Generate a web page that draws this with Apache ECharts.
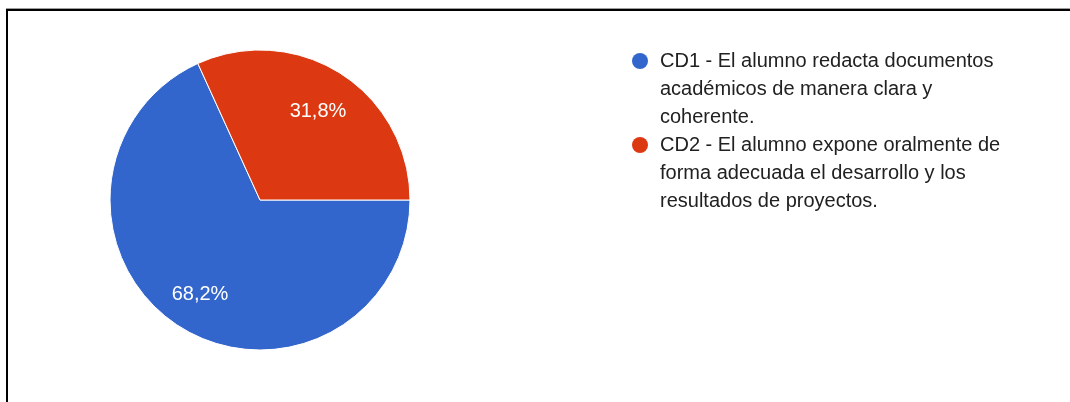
<!DOCTYPE html>
<html>
<head>
<meta charset="utf-8">
<script src="https://cdn.jsdelivr.net/npm/echarts@6/dist/echarts.min.js"></script>
<style>
	html, body { margin: 0; padding: 0; background: #fff; }
	#chartContainer { position: absolute; left: 0; top: 0; width: 1070px; height: 402px; }
	#frame { position: absolute; left: 6px; top: 8px; width: 1100px; height: 420px;
		border-top: 1px solid #9e9e9e; pointer-events: none; }
	#frame div { position: absolute; left: 0; top: 0; width: 100%; height: 100%;
		border-top: 2px solid #000; border-left: 2px solid #000; }
</style>
</head>
<body>
<div id="chartContainer"></div>
<div id="frame"><div></div></div>
<script>
var categories = [
	'CD1 - El alumno redacta documentos académicos de manera clara y coherente.',
	'CD2 - El alumno expone oralmente de forma adecuada el desarrollo y los resultados de proyectos.'
];
var percentValues = [68.2, 31.8];
var colors = ['#3366cc', '#dc3912'];

var option = null;

function initOption() {
	var pieData = [];
	$each(categories, function(index, name) {
		pieData.push({
			name: name,
			value: percentValues[index],
			itemStyle: { color: colors[index] }
		});
	});

	option = {
		animation: false,
		color: colors,
		legend: {
			orient: 'vertical',
			left: 632,
			top: -9,
			padding: 0,
			itemWidth: 16,
			itemHeight: 16,
			itemGap: -56,
			icon: 'circle',
			selectedMode: false,
			itemStyle: { borderWidth: 0 },
			data: categories,
			// blank lines in front keep the dot level with the first text line
			formatter: function(name) {
				return '\n\n' + name;
			},
			textStyle: {
				fontFamily: 'Liberation Sans, Arial, sans-serif',
				fontSize: 20,
				color: '#212121',
				lineHeight: 28,
				width: 350,
				overflow: 'break',
				padding: [0, 0, 0, 7]
			}
		},
		series: [ {
			name: 'base',
			type: 'pie',
			center: [260, 200],
			radius: [0, 150],
			startAngle: 0,
			clockwise: true,
			silent: true,
			itemStyle: { borderColor: '#ffffff', borderWidth: 1 },
			label: { show: false },
			labelLine: { show: false },
			data: pieData
		}, {
			name: 'labels',
			type: 'pie',
			center: [259, 203],
			radius: [62, 150],
			startAngle: 0,
			clockwise: true,
			silent: true,
			itemStyle: { color: 'rgba(0,0,0,0)' },
			label: {
				show: true,
				position: 'inside',
				color: '#ffffff',
				fontFamily: 'Liberation Sans, Arial, sans-serif',
				fontSize: 20,
				formatter: function(p) {
					return p.value.toFixed(1).replace('.', ',') + '%';
				}
			},
			labelLine: { show: false },
			data: pieData.map(function(d) { return { name: d.name, value: d.value }; })
		} ]
	};
}

function $each(arr, fn) {
	for (var i = 0; i < arr.length; i++) {
		fn(i, arr[i]);
	}
}

initOption();
var chart = echarts.init(document.getElementById('chartContainer'), null, { renderer: 'canvas' });
chart.setOption(option);
</script>
</body>
</html>
